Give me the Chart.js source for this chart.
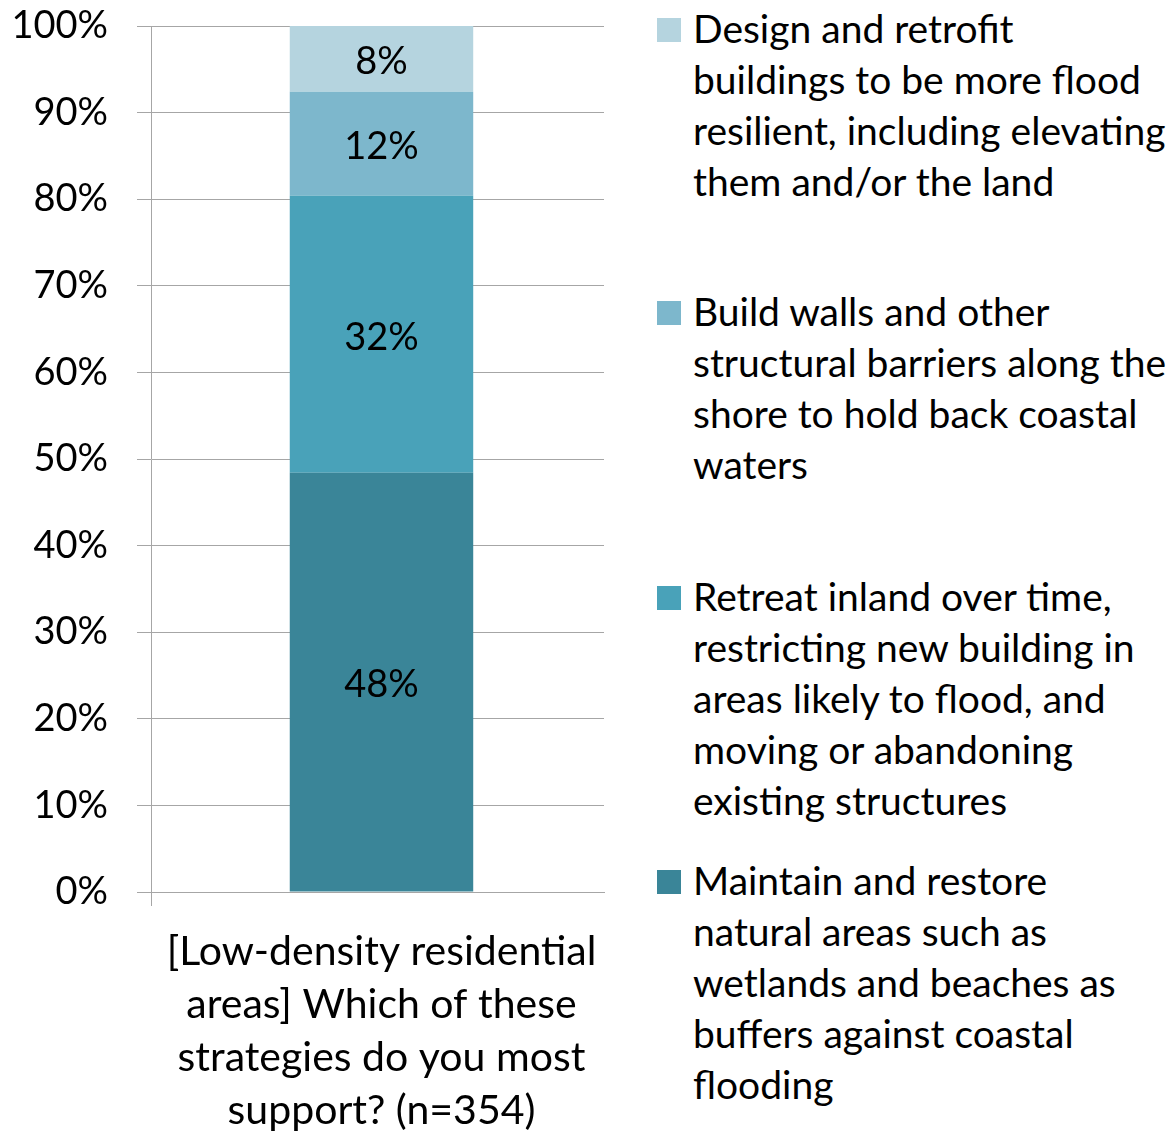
<!DOCTYPE html>
<html>
<head>
<meta charset="utf-8">
<script src="https://cdn.jsdelivr.net/npm/chart.js@4/dist/chart.umd.min.js"></script>
<style>
  html, body { margin: 0; padding: 0; background: #ffffff; }
  body { width: 1169px; height: 1131px; position: relative; overflow: hidden; font-family: Lato, "Open Sans", sans-serif; }
  #wrap { position: absolute; left: 0; top: 0; width: 620px; height: 1131px; }
  #legend { position: absolute; left: 657px; top: 0; width: 512px; }
  .item { position: absolute; left: 0; }
  .sw { position: absolute; left: 0; width: 24px; height: 24px; }
  .txt { position: absolute; left: 36px; white-space: nowrap; font-size: 39px; line-height: 51px; color: #000; }
</style>
</head>
<body>
<div id="wrap"><canvas id="c" width="620" height="1131"></canvas></div>
<div id="legend"></div>
<script>
// ---- data ----
const categories = [["[Low-density residential", "areas] Which of these", "strategies do you most", "support? (n=354)"]];
const seriesNames = [
  "Maintain and restore natural areas such as wetlands and beaches as buffers against coastal flooding",
  "Retreat inland over time, restricting new building in areas likely to flood, and moving or abandoning existing structures",
  "Build walls and other structural barriers along the shore to hold back coastal waters",
  "Design and retrofit buildings to be more flood resilient, including elevating them and/or the land"
];
const legendLines = [
  ["Maintain and restore", "natural areas such as", "wetlands and beaches as", "buffers against coastal", "flooding"],
  ["Retreat inland over time,", "restricting new building in", "areas likely to flood, and", "moving or abandoning", "existing structures"],
  ["Build walls and other", "structural barriers along the", "shore to hold back coastal", "waters"],
  ["Design and retrofit", "buildings to be more flood", "resilient, including elevating", "them and/or the land"]
];
const maintainValues = [48.4];
const retreatValues = [32.0];
const wallsValues = [12.0];
const retrofitValues = [7.6];
const valueLabels = [["48%"], ["32%"], ["12%"], ["8%"]];
const yTicks = [0, 10, 20, 30, 40, 50, 60, 70, 80, 90, 100];
const colors = ["#3a8598", "#49a2b9", "#7db7cc", "#b5d4df"];

const seriesValues = [maintainValues, retreatValues, wallsValues, retrofitValues];

const datasets = seriesValues.map((vals, i) => ({
  label: seriesNames[i],
  data: vals,
  backgroundColor: colors[i],
  borderWidth: 0,
  barPercentage: 0.405,
  categoryPercentage: 1.0
}));

const barLabels = {
  id: 'barLabels',
  afterDatasetsDraw(chart) {
    const ctx = chart.ctx;
    ctx.save();
    ctx.font = '38px Lato';
    ctx.fillStyle = '#000';
    ctx.textAlign = 'center';
    ctx.textBaseline = 'middle';
    chart.data.datasets.forEach((ds, di) => {
      const meta = chart.getDatasetMeta(di);
      meta.data.forEach((bar, i) => {
        const cy = (bar.y + bar.base) / 2 + 3;
        ctx.fillText(valueLabels[di][i], bar.x, cy);
      });
    });
    ctx.restore();
  }
};

// the category sits slightly right of the plot centre in the original
const shiftCategory = {
  id: 'shiftCategory',
  afterLayout(chart) {
    const x = chart.scales.x;
    x._startValue -= 0.0088;
  }
};

new Chart(document.getElementById('c'), {
  type: 'bar',
  data: { labels: categories, datasets },
  options: {
    responsive: false,
    devicePixelRatio: 1,
    animation: false,
    layout: { padding: { left: 0, right: 16, top: 26, bottom: 0 } },
    plugins: { legend: { display: false }, tooltip: { enabled: false } },
    scales: {
      x: {
        stacked: true,
        afterFit(scale) { scale.height = 239; },
        grid: {
          display: true,
          offset: true,
          drawOnChartArea: false,
          tickLength: 14,
          color: (c) => c.index === 0 ? '#a6a6a6' : 'rgba(0,0,0,0)'
        },
        border: { display: true, color: '#a6a6a6' },
        ticks: {
          color: '#000',
          font: { family: 'Lato', size: 41, lineHeight: 1.293 },
          padding: 19,
          maxRotation: 0
        }
      },
      y: {
        stacked: true,
        min: 0, max: 100,
        afterFit(scale) { scale.width = 151; },
        afterBuildTicks(scale) { scale.ticks = yTicks.map(v => ({ value: v })); },
        grid: { color: '#a6a6a6', lineWidth: 1, tickLength: 43, tickBorderDash: [0, 29, 14, 100] },
        border: { display: true, color: '#a6a6a6' },
        ticks: {
          color: '#000',
          font: { family: 'Lato', size: 38 },
          padding: 0,
          callback: (v) => v + '%'
        }
      }
    }
  },
  plugins: [shiftCategory, barLabels]
});

// legend (HTML, top item = last series)
const legend = document.getElementById('legend');
const itemTops = [869, 585, 300, 17];
for (let i = seriesNames.length - 1; i >= 0; i--) {
  const it = document.createElement('div');
  it.className = 'item';
  it.style.top = itemTops[i] + 'px';
  const sw = document.createElement('div');
  sw.className = 'sw';
  sw.style.background = colors[i];
  sw.style.top = '1px';
  const tx = document.createElement('div');
  tx.className = 'txt';
  tx.style.top = '-14px';
  tx.innerHTML = legendLines[i].join('<br>');
  it.appendChild(sw); it.appendChild(tx);
  legend.appendChild(it);
}
</script>
</body>
</html>
